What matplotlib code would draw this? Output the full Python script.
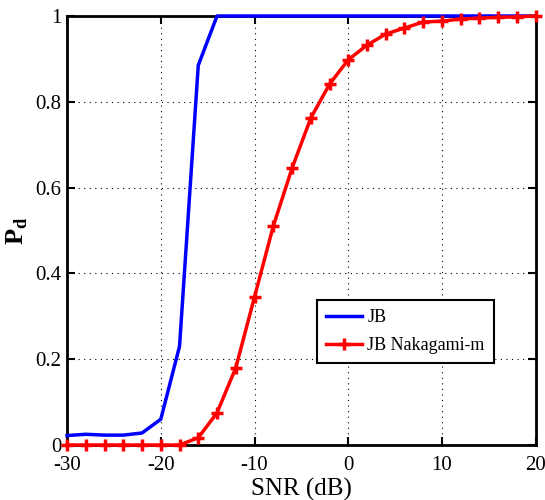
import numpy as np
import matplotlib.pyplot as plt

plt.rcParams['font.family'] = ['Liberation Serif', 'DejaVu Serif']
plt.rcParams['mathtext.fontset'] = 'custom'
plt.rcParams['mathtext.rm'] = 'Liberation Serif'
plt.rcParams['mathtext.bf'] = 'Liberation Serif:bold'
plt.rcParams['axes.unicode_minus'] = False

# SNR sweep in dB
snr = np.arange(-30, 21, 2)

# detection probability, plain JB detector
pd_jb = [0.022, 0.025, 0.023, 0.023, 0.028, 0.06, 0.23, 0.885, 1.0, 1.0,
         1.0, 1.0, 1.0, 1.0, 1.0, 1.0, 1.0, 1.0, 1.0, 1.0,
         1.0, 1.0, 1.0, 1.0, 1.0, 1.0]

# detection probability under Nakagami-m fading
pd_nak = [0.0, 0.0, 0.0, 0.0, 0.0, 0.0, 0.0, 0.017, 0.075, 0.18,
          0.345, 0.51, 0.645, 0.762, 0.841, 0.898, 0.932, 0.958, 0.972, 0.986,
          0.988, 0.993, 0.995, 0.997, 0.998, 1.0]

fig = plt.figure(figsize=(5.45, 5.0), dpi=100)
ax = fig.add_axes([0.123, 0.11, 0.86, 0.858])

ax.plot(snr, pd_jb, color='blue', lw=2.5, label='JB', clip_on=False, zorder=3)
ax.plot(snr, pd_nak, color='red', lw=2.5, marker='+', ms=9, mew=2.5,
        label='JB Nakagami-m', clip_on=False, zorder=4)

ax.set_xlim(-30, 20)
ax.set_ylim(0, 1)
ax.set_xticks([-30, -20, -10, 0, 10, 20])
ax.set_yticks([0, 0.2, 0.4, 0.6, 0.8, 1])
ax.set_yticklabels(['0', '0.2', '0.4', '0.6', '0.8', '1'])
ax.grid(True, color='black', linestyle=(0, (1, 4)), linewidth=0.8)
ax.tick_params(direction='in', labelsize=15, length=6, width=1.5,
               top=True, right=True)
ax.tick_params(axis='x', pad=8)
ax.tick_params(axis='y', pad=4)
for s in ax.spines.values():
    s.set_linewidth(2)

ax.set_xlabel('SNR (dB)', fontsize=18, labelpad=2)
ax.set_ylabel(r'$\mathbf{P}_{\mathbf{d}}$', fontsize=19, labelpad=4)

leg = ax.legend(loc='upper right', bbox_to_anchor=(0.91, 0.338), fontsize=13,
                fancybox=False, framealpha=1, edgecolor='black',
                handlelength=2.0, handletextpad=0.3, borderpad=0.5,
                labelspacing=0.6, borderaxespad=0)
leg.get_frame().set_linewidth(1.5)

fig.savefig('out.png', dpi=100)
